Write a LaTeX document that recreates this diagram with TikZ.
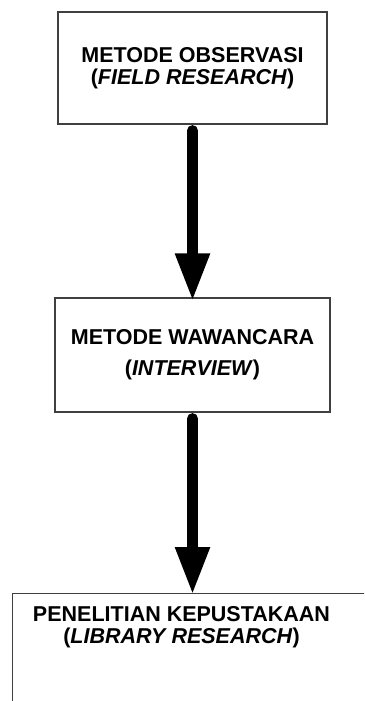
\documentclass[tikz,border=0pt]{standalone}
\usepackage{fontspec}
\setmainfont{Liberation Sans}
\usetikzlibrary{arrows.meta}

\begin{document}
\begin{tikzpicture}[x=1pt, y=-1pt, font=\bfseries\fontsize{21.5}{22}\selectfont,
  box/.style={draw=black!75, line width=1.2pt, inner sep=0pt, align=center},
  flow/.style={line width=11pt, line cap=round, -{Triangle[width=32pt,length=48pt]}}]
\clip (0,0) rectangle (364,701);
% three steps, top to bottom
\node[box, minimum width=269pt, minimum height=112pt] (obs) at (192.5,68) {METODE OBSERVASI\\(\textit{FIELD RESEARCH})};
\node[box, minimum width=275pt, minimum height=114pt] (wwc) at (192.5,355) {METODE WAWANCARA\\[9pt](\textit{INTERVIEW})};
\node[box, anchor=north west, minimum width=380pt, minimum height=140pt] (lib) at (12,593) {};
\node[align=center] (libtxt) at (181.5,627) {PENELITIAN KEPUSTAKAAN\\(\textit{LIBRARY RESEARCH})};
% arrows between the steps
\draw[flow, shorten <=6pt, shorten >=-4pt] (obs.south) -- (wwc.north);
\draw[flow, shorten <=6pt, shorten >=-2pt] (wwc.south) -- (wwc.south |- lib.north);
\end{tikzpicture}
\end{document}
